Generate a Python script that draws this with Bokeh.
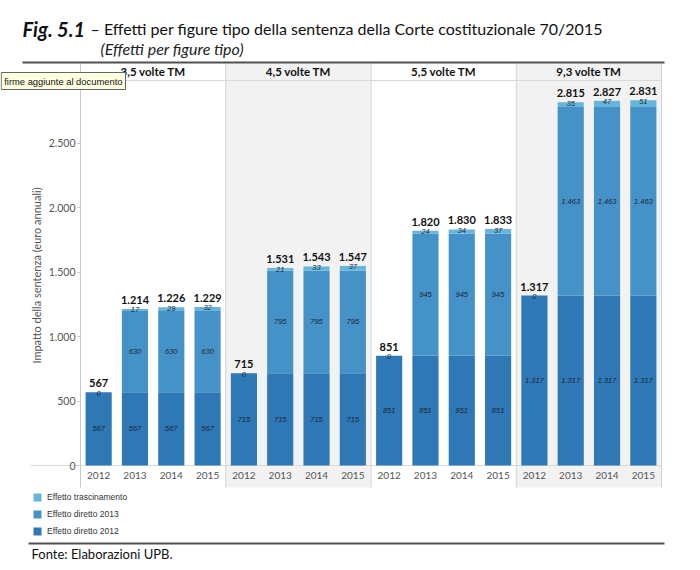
from bokeh.plotting import figure
from bokeh.models import (ColumnDataSource, Range1d, FixedTicker, Label, Legend,
                          LegendItem, BoxAnnotation, LinearAxis)
from bokeh.core.properties import value
from bokeh.embed import file_html
from bokeh.resources import INLINE

# ---------------- data ----------------
panels = ["3,5 volte TM", "4,5 volte TM", "5,5 volte TM", "9,3 volte TM"]
years = ["2012", "2013", "2014", "2015"]
diretto_2012 = [567, 567, 567, 567, 715, 715, 715, 715,
                851, 851, 851, 851, 1317, 1317, 1317, 1317]
diretto_2013 = [0, 630, 630, 630, 0, 795, 795, 795,
                0, 945, 945, 945, 0, 1463, 1463, 1463]
trascinamento = [0, 17, 29, 32, 0, 21, 33, 37,
                 0, 24, 34, 37, 0, 35, 47, 51]
series_names = ["Effetto trascinamento", "Effetto diretto 2013", "Effetto diretto 2012"]
ytick_values = [0, 500, 1000, 1500, 2000, 2500]
ytick_labels = ["0", "500", "1.000", "1.500", "2.000", "2.500"]

# ---------------- helpers ----------------
def fmt(v):
    return f"{v:,}".replace(",", ".")

W, H = 696, 566
FRAME_X0, PX_X = 80.0, 581.0 / 16.0     # pixel mapping of the bar area
BASE_Y, PX_Y = 465.0, 0.129

def xdat(rx):
    return (rx - FRAME_X0) / PX_X

def ydat(ry):
    return (BASE_Y - ry) / PX_Y

n_p, n_y = len(panels), len(years)
xs = [pi * n_y + yi + 0.5 for pi in range(n_p) for yi in range(n_y)]
year_lab = [years[yi] for pi in range(n_p) for yi in range(n_y)]
totals = [a + b + c for a, b, c in zip(diretto_2012, diretto_2013, trascinamento)]

DARK, MID, LIGHT = "#2e78b5", "#4592c8", "#68b5dc"

p = figure(width=W, height=H, output_backend="svg", toolbar_location=None,
           x_range=Range1d(xdat(0), xdat(W)), y_range=Range1d(ydat(H), ydat(0)),
           x_axis_location=None, y_axis_location=None,
           min_border=0, min_border_left=0, min_border_right=0,
           min_border_top=0, min_border_bottom=0)
p.outline_line_color = None
p.xgrid.visible = False
p.ygrid.visible = False
p.background_fill_color = "white"
p.border_fill_color = "white"

TOP, BOT = ydat(63), ydat(487)
XE = n_p * n_y

# panel backgrounds (grey for every second panel)
gl = [pi * n_y for pi in range(n_p) if pi % 2 == 1]
p.quad(left=gl, right=[g + n_y for g in gl], bottom=BOT, top=TOP,
       fill_color="#f2f2f2", line_color=None)

# separators and table lines
seps = [pi * n_y for pi in range(1, n_p + 1)]
p.segment(x0=seps, y0=BOT, x1=seps, y1=TOP, line_color="#d2d2d2", line_width=1)
p.segment(x0=[0, xdat(30)], y0=[ydat(80), 0], x1=[XE, XE], y1=[ydat(80), 0],
          line_color="#d9d9d9", line_width=1)
p.segment(x0=[0], y0=[BOT], x1=[0], y1=[TOP], line_color="#c8c8c8", line_width=1)

src = ColumnDataSource(dict(x=xs, d12=diretto_2012, d13=diretto_2013, tr=trascinamento))
rs = p.vbar_stack(["d12", "d13", "tr"], x="x", width=0.72, source=src,
                  color=[DARK, MID, LIGHT], line_color=None)

# segment labels
small = dict(text_align="center", text_baseline="middle", text_font=value("Liberation Sans"),
             text_font_style="italic", text_font_size="7.5px", text_color="#1c2633")
p.text(x=xs, y=[v / 2 for v in diretto_2012], text=[fmt(v) for v in diretto_2012], **small)
mid_i = [i for i, v in enumerate(diretto_2013) if v > 0]
p.text(x=[xs[i] for i in mid_i], y=[diretto_2012[i] + diretto_2013[i] / 2 for i in mid_i],
       text=[fmt(diretto_2013[i]) for i in mid_i], **small)
p.text(x=xs, y=[t - 1 / PX_Y for t in totals], text=[fmt(v) for v in trascinamento], **small)
p.text(x=xs, y=[t + 9 / PX_Y for t in totals], text=[fmt(v) for v in totals],
       text_align="center", text_baseline="middle", text_font=value("Lato"),
       text_font_style="bold", text_font_size="11px", text_color="#111111")

# year labels and panel headers
p.text(x=xs, y=ydat(475), text=year_lab, text_align="center", text_baseline="middle",
       text_font=value("Lato"), text_font_size="10px", text_color="#555555")
p.text(x=[pi * n_y + n_y / 2 for pi in range(n_p)], y=ydat(71), text=panels,
       text_align="center", text_baseline="middle", text_font=value("Lato"),
       text_font_style="bold", text_font_size="11.5px", text_color="#111111")

# y axis, drawn at the left edge of the bar area
ax = LinearAxis(fixed_location=0, bounds=(BOT, TOP))
ax.ticker = FixedTicker(ticks=ytick_values)
ax.major_label_overrides = {v: l for v, l in zip(ytick_values, ytick_labels)}
ax.minor_tick_line_color = None
ax.major_tick_out = 3
ax.major_tick_in = 0
ax.major_label_standoff = 2
ax.axis_line_color = None
ax.major_tick_line_color = "#c8c8c8"
ax.major_label_text_font = "Lato"
ax.major_label_text_font_size = "10.5px"
ax.major_label_text_color = "#555555"
ax.axis_label = "Impatto della sentenza (euro annuali)"
ax.axis_label_text_font = "Lato"
ax.axis_label_text_font_size = "11px"
ax.axis_label_text_font_style = "normal"
ax.axis_label_text_color = "#555555"
ax.axis_label_standoff = 3
p.add_layout(ax, "left")

# legend
legend = Legend(items=[LegendItem(label=series_names[0], renderers=[rs[2]]),
                       LegendItem(label=series_names[1], renderers=[rs[1]]),
                       LegendItem(label=series_names[2], renderers=[rs[0]])],
                location=(32, H - 536), orientation="vertical",
                glyph_width=10, glyph_height=10, label_height=10, spacing=7,
                padding=0, margin=0, label_standoff=5,
                label_text_font="Liberation Sans", label_text_font_size="8.5px",
                label_text_color="#333333", background_fill_alpha=0,
                border_line_color=None)
p.add_layout(legend, "center")

# rules
p.add_layout(BoxAnnotation(left=xdat(22), right=xdat(664), top=ydat(61), bottom=ydat(63),
                           fill_color="#505050", fill_alpha=1, line_color=None))
p.add_layout(BoxAnnotation(left=xdat(28), right=xdat(664), top=ydat(542), bottom=ydat(544),
                           fill_color="#505050", fill_alpha=1, line_color=None))

# titles and footer
p.add_layout(Label(x=xdat(22), y=ydat(28), text="Fig. 5.1", text_font="Lato",
                   text_font_style="bold italic", text_font_size="20px",
                   text_baseline="middle", text_color="#111111"))
p.add_layout(Label(x=xdat(90), y=ydat(28),
                   text="– Effetti per figure tipo della sentenza della Corte costituzionale 70/2015",
                   text_font="Lato", text_font_size="16px",
                   text_baseline="middle", text_color="#111111"))
p.add_layout(Label(x=xdat(100), y=ydat(48), text="(Effetti per figure tipo)",
                   text_font="Lato", text_font_style="italic", text_font_size="16px",
                   text_baseline="middle", text_color="#222222"))
p.add_layout(Label(x=xdat(31), y=ydat(553), text="Fonte: Elaborazioni UPB.",
                   text_font="Lato", text_font_size="13px",
                   text_baseline="middle", text_color="#111111"))
p.add_layout(Label(x=xdat(125), y=ydat(80.5), text="firme aggiunte al documento",
                   text_font="Liberation Sans", text_font_size="9.4px", text_align="right",
                   text_baseline="middle", text_color="#111111",
                   background_fill_color="#ffffe1", border_line_color="#666666",
                   padding=3))

open("out.html", "w").write(file_html(p, INLINE))
